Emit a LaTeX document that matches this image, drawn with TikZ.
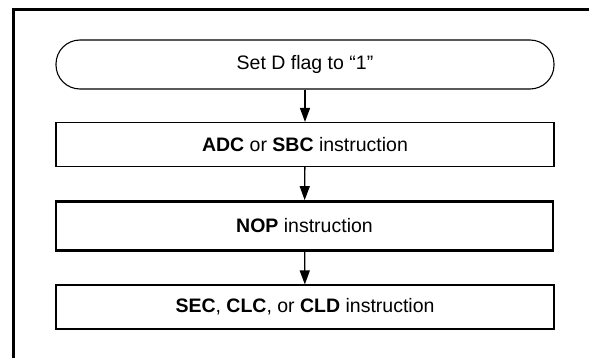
\documentclass[tikz,border=0pt]{standalone}
\usepackage{fontspec}
\setmainfont{Liberation Sans}
\usepackage{tikz}
\usetikzlibrary{arrows.meta,positioning}

\begin{document}
\begin{tikzpicture}[x=1pt,y=-1pt,
  every node/.style={font=\fontsize{19.5}{23}\selectfont},
  stepbox/.style={draw,line width=1.1pt,minimum width=498pt,minimum height=44pt,inner sep=0pt},
  startbox/.style={stepbox,minimum height=49pt,rounded corners=24pt},
  boldbox/.style={stepbox,line width=2.8pt,minimum width=497pt,minimum height=49pt},
  flow/.style={-{Triangle[length=14pt,width=10pt]},line width=1.3pt}]
  \useasboundingbox (0,0) rectangle (589,358);
  % frame
  \draw[line width=3pt] (13,358) -- (13,9.5) -- (589,9.5);
  % steps
  \node[startbox] (setd) at (305,64.5) {Set D flag to “1”};
  \node[stepbox] (adc) at (305,144.5) {\textbf{ADC} or \textbf{SBC} instruction};
  \node[boldbox] (nop) at (304.5,226) {\textbf{NOP} instruction};
  \node[stepbox] (sec) at (305,307) {\textbf{SEC}, \textbf{CLC}, or \textbf{CLD} instruction};
  % arrows
  \draw[flow] (setd) -- (adc);
  \draw[flow] (adc) -- (nop);
  \draw[flow] (nop) -- (sec);
\end{tikzpicture}
\end{document}
